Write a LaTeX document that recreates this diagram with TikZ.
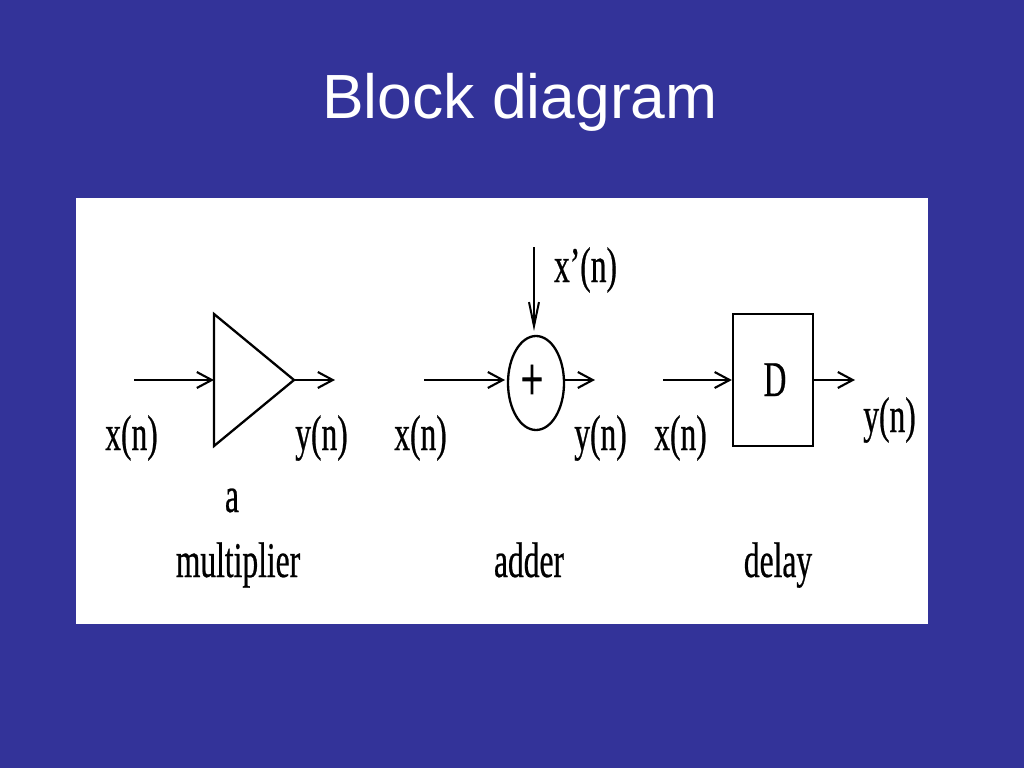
\documentclass[tikz,border=0pt]{standalone}
\usepackage{fontspec}
\setmainfont{Liberation Serif}
\newfontfamily\titlefont{Liberation Sans}
\newfontfamily\narrowfont[FakeStretch=0.63,FakeBold=0.5]{Liberation Serif}
\newfontfamily\plusfont[FakeStretch=0.63,FakeBold=1.5]{Liberation Serif}
\usetikzlibrary{arrows.meta,shapes.geometric}
\definecolor{slidebg}{HTML}{333399}
\tikzset{
  figtext/.style={anchor=base,inner sep=0pt,font=\narrowfont\fontsize{50}{56}\selectfont,text=black},
  conn/.style={draw=black,line width=2.2pt,-{Straight Barb[length=15pt,width=16pt,line width=2.1pt]}},
  connv/.style={draw=black,line width=2.2pt,-{Straight Barb[length=24pt,width=10pt,line width=2pt]}},
  shapeline/.style={draw=black,line width=2.3pt}
}
\begin{document}
\begin{tikzpicture}[x=1pt,y=-1pt]
\useasboundingbox (0,0) rectangle (1024,768);
\fill[slidebg] (0,0) rectangle (1024,768);
\fill[white] (76,198) rectangle (928,624);
\node[anchor=base,inner sep=0pt,text=white,font=\titlefont\fontsize{62.4}{70}\selectfont] (title) at (520,118) {Block diagram};

% multiplier
\coordinate (ta) at (214,314);
\coordinate (tb) at (214,446);
\coordinate (tc) at (294,380);
\coordinate (tin) at (214,380);
\draw[shapeline,line join=miter] (ta) -- (tc) -- (tb) -- cycle;
\coordinate (m1) at (134,380);
\coordinate (m2) at (335,380);
\draw[conn] (m1) -- (tin);
\draw[conn] (tc) -- (m2);
\node[figtext] (mx) at (131.5,450) {x(n)};
\node[figtext] (my) at (321.5,450) {y(n)};
\node[figtext] (ma) at (232,512) {a};
\node[figtext] (mm) at (238,577) {multiplier};

% adder
\node[shapeline,ellipse,minimum width=56pt,minimum height=94pt,inner sep=0pt] (add) at (536,383) {};
\node[anchor=base,inner sep=0pt,font=\plusfont\fontsize{62}{66}\selectfont] (plus) at (532,400) {+};
\coordinate (a1) at (424,380);
\coordinate (a2) at (505,380);
\coordinate (a3) at (564,380);
\coordinate (a4) at (595,380);
\coordinate (a5) at (534,247);
\coordinate (a6) at (534,331);
\draw[conn] (a1) -- (a2);
\draw[conn] (a3) -- (a4);
\draw[connv] (a5) -- (a6);
\node[figtext] (ax) at (420.5,450) {x(n)};
\node[figtext] (ay) at (600.5,450) {y(n)};
\node[figtext] (axp) at (585.5,282) {x’(n)};
\node[figtext] (aa) at (529,577) {adder};

% delay
\node[shapeline,rectangle,minimum width=80pt,minimum height=132pt,inner sep=0pt] (del) at (773,380) {};
\node[figtext] (dd) at (775,396) {D};
\coordinate (d1) at (663,380);
\coordinate (d2) at (855,380);
\draw[conn] (d1) -- (del.west);
\draw[conn] (del.east) -- (d2);
\node[figtext] (dx) at (680.5,450) {x(n)};
\node[figtext] (dy) at (889.5,432) {y(n)};
\node[figtext] (dl) at (778,577) {delay};
\end{tikzpicture}
\end{document}
